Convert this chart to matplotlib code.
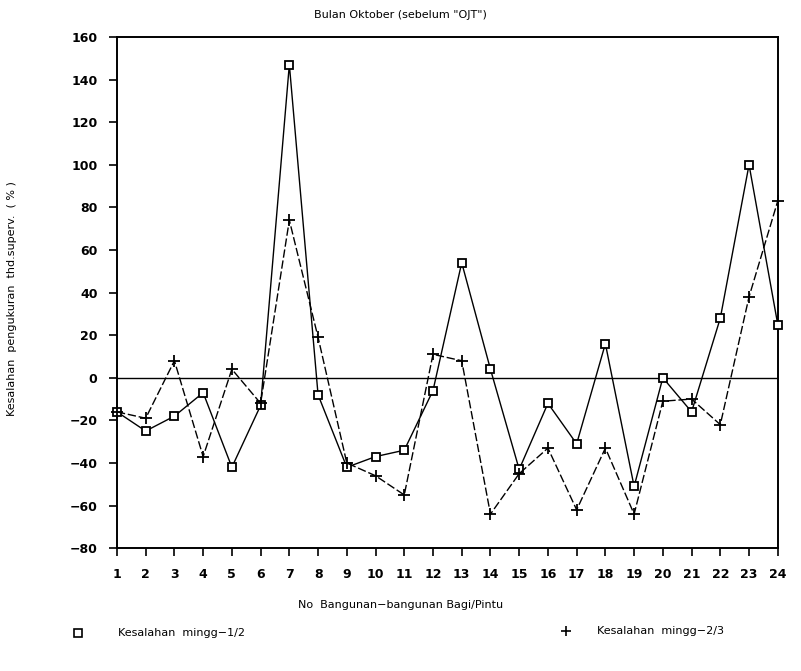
import numpy as np
import matplotlib.pyplot as plt

# data
bangunan = list(range(1, 25))
mingg_12 = [-16, -25, -18, -7, -42, -13, 147, -8, -42, -37, -34, -6,
            54, 4, -43, -12, -31, 16, -51, 0, -16, 28, 100, 25]
mingg_23 = [-16, -19, 8, -37, 4, -12, 74, 19, -40, -46, -55, 11,
            8, -64, -45, -33, -62, -33, -64, -11, -10, -22, 38, 83]
y_ticks = list(range(-80, 161, 20))

fig = plt.figure(figsize=(8.01, 6.71), dpi=100)
ax = fig.add_axes([0.146, 0.183, 0.825, 0.762])

ax.plot(bangunan, mingg_12, color='black', lw=1.0, marker='s', ms=6,
        mfc='white', mec='black', mew=1.3, clip_on=False, zorder=3)
ax.plot(bangunan, mingg_23, color='black', lw=1.0, ls=(0, (6, 2)),
        marker='+', ms=8, mew=1.3, clip_on=False, zorder=3)
ax.axhline(0, color='black', lw=1.0)

ax.set_xlim(1, 24)
ax.set_ylim(-80, 160)
ax.set_xticks(bangunan)
ax.set_yticks(y_ticks)
ax.tick_params(direction='out', length=6, width=1.2, labelsize=9, pad=8)
for lab in ax.get_xticklabels() + ax.get_yticklabels():
    lab.set_fontweight('bold')
for s in ax.spines.values():
    s.set_linewidth(1.4)

fig.text(0.5, 0.978, 'Bulan Oktober (sebelum "OJT")', ha='center', va='center', fontsize=8)
fig.text(0.5, 0.098, 'No  Bangunan\u2212bangunan Bagi/Pintu', ha='center', va='center', fontsize=8)
fig.text(0.015, 0.555, 'Kesalahan  pengukuran  thd.superv.  ( % )', rotation=90,
         ha='center', va='center', fontsize=8)

# legend laid out under the chart like the original
fig.lines.append(plt.Line2D([0.098], [0.057], transform=fig.transFigure, marker='s',
                            ms=6, mfc='white', mec='black', mew=1.2, ls='none'))
fig.text(0.147, 0.057, 'Kesalahan  mingg\u22121/2', ha='left', va='center', fontsize=8)
fig.lines.append(plt.Line2D([0.706], [0.060], transform=fig.transFigure, marker='+',
                            ms=7, color='black', mew=1.2, ls='none'))
fig.text(0.745, 0.060, 'Kesalahan  mingg\u22122/3', ha='left', va='center', fontsize=8)

fig.savefig('out.png', dpi=100)
